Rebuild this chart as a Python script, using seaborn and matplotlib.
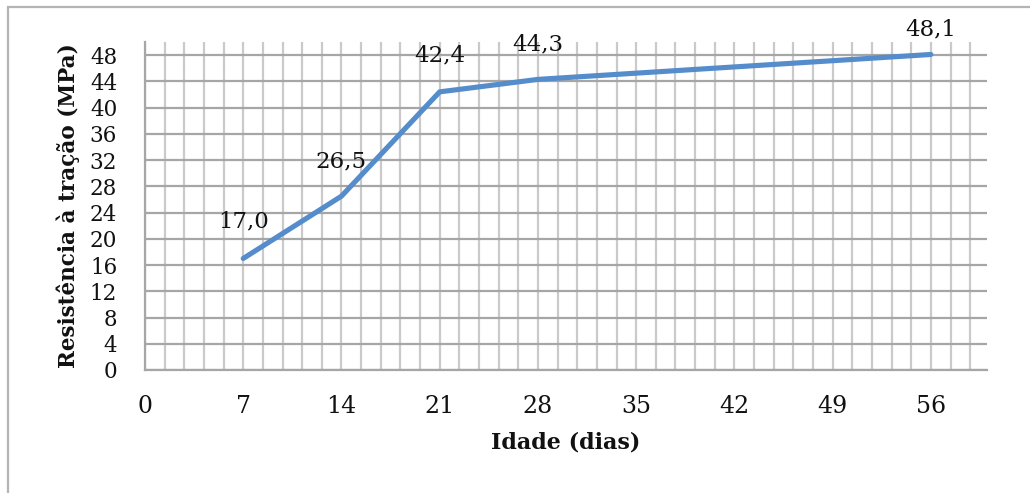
import numpy as np
import pandas as pd
import matplotlib
matplotlib.use("Agg")
import matplotlib.pyplot as plt
import seaborn as sns
from matplotlib.patches import Rectangle

# Tensile strength versus age
idade = [7, 14, 21, 28, 56]
resistencia = [17.0, 26.5, 42.4, 44.3, 48.1]
rotulos = ["17,0", "26,5", "42,4", "44,3", "48,1"]
x_ticks = [0, 7, 14, 21, 28, 35, 42, 49, 56]
y_ticks = [0, 4, 8, 12, 16, 20, 24, 28, 32, 36, 40, 44, 48]

sns.set_theme(style="white")
plt.rcParams["font.family"] = ["DejaVu Serif"]

W, H = 1030, 493
fig = plt.figure(figsize=(W / 100, H / 100), dpi=100)
ax = fig.add_axes([145 / W, 1 - 370 / H, (987 - 145) / W, (370 - 42) / H])

# outer chart frame
fig.patches.append(Rectangle((8 / W, -0.05), 1.1, 1 - 7 / H + 0.05,
                             transform=fig.transFigure, fill=False,
                             edgecolor="#b4b4b4", linewidth=1.6))

df = pd.DataFrame({"Idade": idade, "Resistencia": resistencia})
sns.lineplot(data=df, x="Idade", y="Resistencia", ax=ax, color="#558ccb",
             linewidth=3.7, solid_capstyle="round", solid_joinstyle="round",
             zorder=5)

ax.set_xlim(0, 60)
ax.set_ylim(0, 50)
ax.set_xticks(x_ticks)
ax.set_xticks([round(1.4 * k, 2) for k in range(0, 43)], minor=True)
ax.set_yticks(y_ticks)

ax.grid(False)
ax.grid(True, which="both", axis="x", color="#cacaca", linewidth=1.6, zorder=0)
ax.grid(True, which="major", axis="y", color="#a6a6a6", linewidth=1.6, zorder=0)
ax.set_axisbelow(True)

for s in ("top", "right"):
    ax.spines[s].set_visible(False)
for s in ("left", "bottom"):
    ax.spines[s].set_color("#a6a6a6")
    ax.spines[s].set_linewidth(1.6)

ax.tick_params(axis="x", which="both", length=0, labelsize=17, pad=18,
               labelcolor="#111111")
ax.tick_params(axis="y", which="major", length=3, width=1.4, color="#a6a6a6",
               direction="out", labelsize=15.5, pad=17, labelcolor="#111111")
ax.tick_params(axis="y", which="minor", length=0)

ax.set_xlabel("Idade (dias)", fontsize=16, fontweight="bold", labelpad=10,
              color="#111111")
ax.set_ylabel("Resistência à tração (MPa)", fontsize=15.5, fontweight="bold",
              labelpad=7, color="#111111")

offsets = [37, 35, 36, 35, 25]
for x, y, t, off in zip(idade, resistencia, rotulos, offsets):
    ax.annotate(t, (x, y), xytext=(0, off), textcoords="offset pixels",
                ha="center", va="center", fontsize=16.5, color="#111111",
                annotation_clip=False, zorder=6)

fig.savefig("out.png", dpi=100)
